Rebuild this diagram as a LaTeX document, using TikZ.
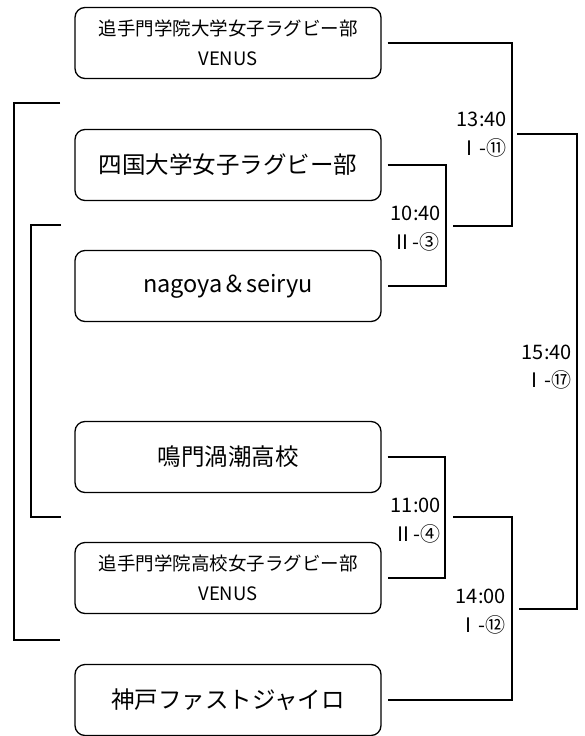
\documentclass[tikz,border=0pt]{standalone}
\usepackage{fontspec}
\newfontfamily\jpfont{Noto Sans CJK JP}
\usetikzlibrary{calc}
\tikzset{
	team/.style={draw,line width=1.3pt,rounded corners=10pt,minimum width=306pt,minimum height=71pt,inner sep=0pt,align=center,font=\jpfont\fontsize{23.5}{28}\selectfont},
	teamtwo/.style={team,font=\jpfont\fontsize{18.5}{30}\selectfont},
	wire/.style={line width=1.4pt},
	kickoff/.style={anchor=east,inner sep=0pt,font=\jpfont\fontsize{20}{22}\selectfont},
}
\begin{document}
\begin{tikzpicture}[x=1pt,y=-1pt]
				\useasboundingbox (0,0) rectangle (584,736);
				\node[teamtwo] (b1) at (228,43) {追手門学院大学女子ラグビー部\\VENUS};
				\node[team] (b2) at (228,165) {四国大学女子ラグビー部};
				\node[team] (b3) at (228,286) {nagoya＆seiryu};
				\node[team] (b4) at (228,457) {鳴門渦潮高校};
				\node[teamtwo] (b5) at (228,578) {追手門学院高校女子ラグビー部\\VENUS};
				\node[team] (b6) at (228,700) {神戸ファストジャイロ};
				\coordinate (m1040) at (446,226);
				\coordinate (m1340) at (512,134);
				\coordinate (m1100) at (445,517);
				\coordinate (m1400) at (512,609);
				\coordinate (m1540) at (577,371);
				\draw[wire] ([xshift=6pt]b2.east) -| (m1040) |- ([xshift=6pt]b3.east);
				\draw[wire] ([xshift=6pt]b1.east) -| (m1340) |- ([xshift=7pt]m1040);
				\draw[wire] ([xshift=6pt]b4.east) -| (m1100) |- ([xshift=6pt]b5.east);
				\draw[wire] ([xshift=8pt]m1100) -| (m1400) |- ([xshift=6pt]b6.east);
				\draw[wire] ([xshift=5pt]m1340) -| (m1540) |- ([xshift=7pt]m1400);
				\coordinate (oT) at (60,103);
				\coordinate (oB) at (60,640);
				\coordinate (iT) at (61,225);
				\coordinate (iB) at (61,517);
				\draw[wire] (oT) -- ++(-46,0) |- (oB);
				\draw[wire] (iT) -- ++(-30,0) |- (iB);
				\node[kickoff] (t1340) at (507,119) {13:40};
				\node[kickoff] (r1340) at (507,148) {Ⅰ-⑪};
				\node[kickoff] (t1040) at (441,213) {10:40};
				\node[kickoff] (r1040) at (440,242) {Ⅱ-③};
				\node[kickoff] (t1540) at (572,352) {15:40};
				\node[kickoff] (r1540) at (572,380) {Ⅰ-⑰};
				\node[kickoff] (t1100) at (441,505) {11:00};
				\node[kickoff] (r1100) at (441,534) {Ⅱ-④};
				\node[kickoff] (t1400) at (506,596) {14:00};
				\node[kickoff] (r1400) at (506,625) {Ⅰ-⑫};
			\end{tikzpicture}
\end{document}
